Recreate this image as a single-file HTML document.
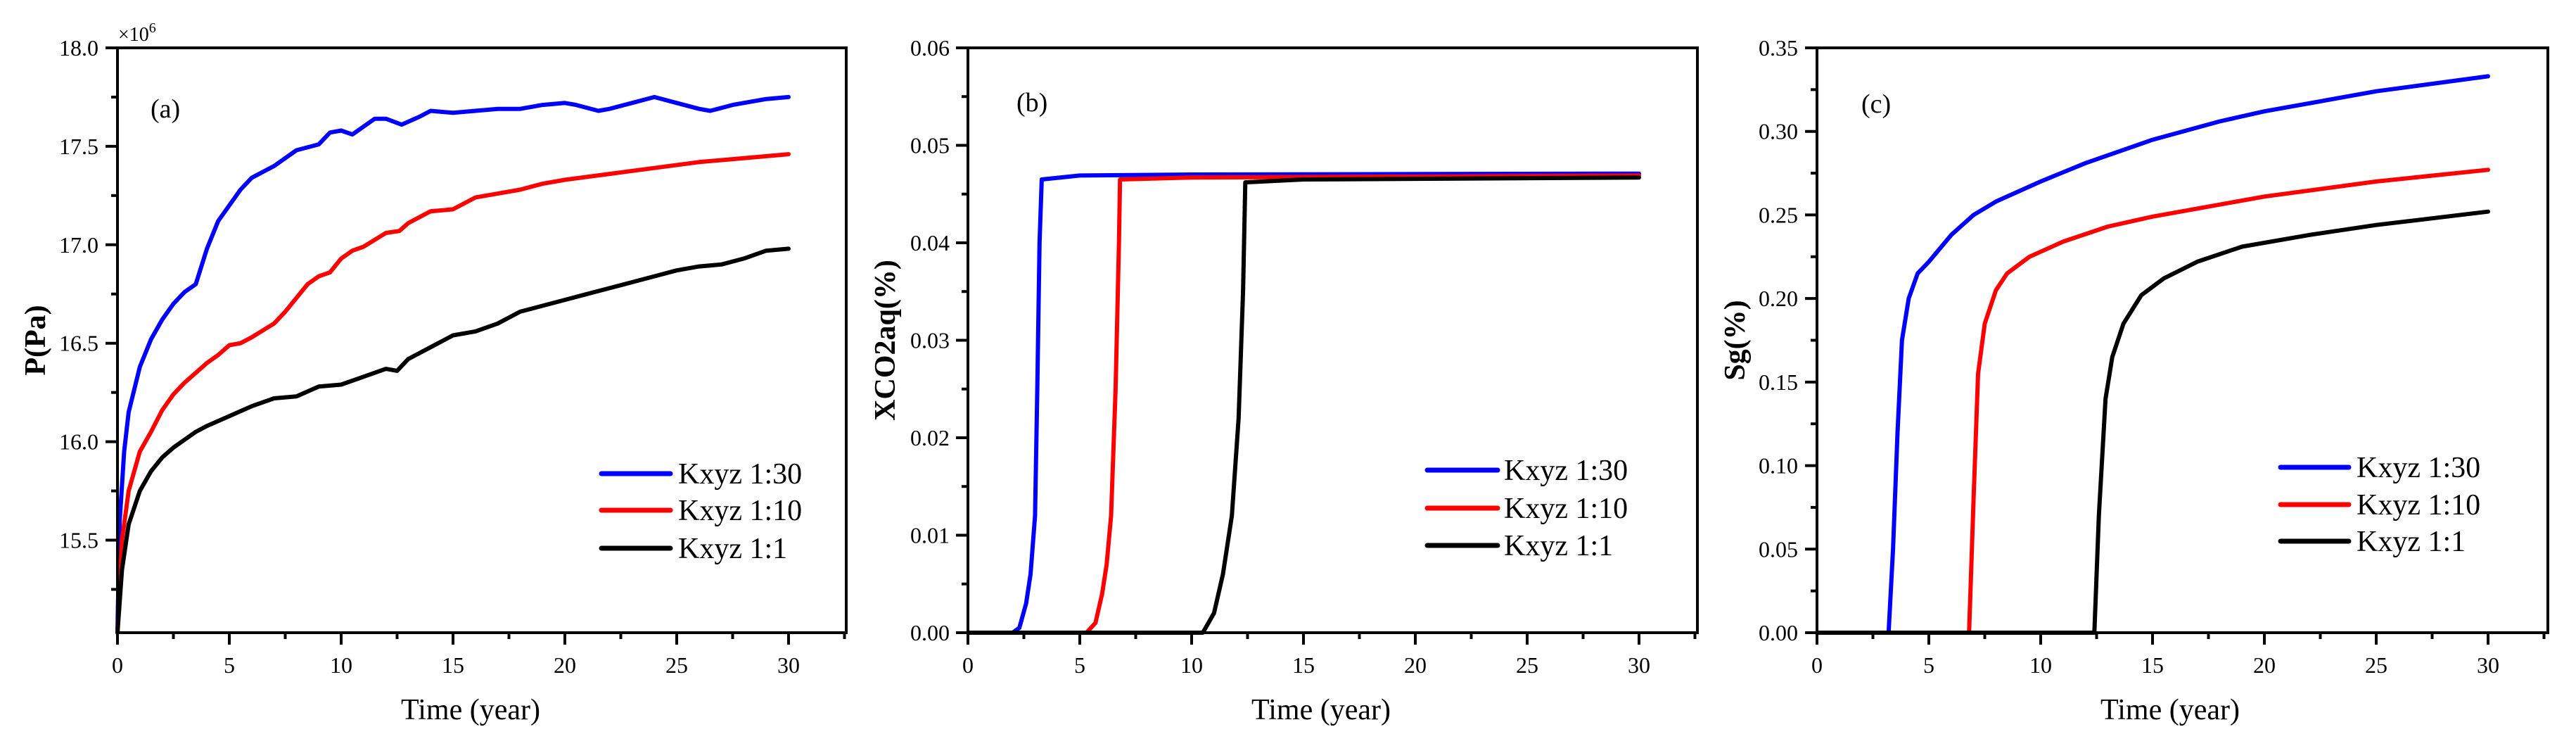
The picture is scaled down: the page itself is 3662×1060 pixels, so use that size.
<!DOCTYPE html>
<html><head><meta charset="utf-8">
<style>
html,body{margin:0;padding:0;background:#fff;}
svg{display:block;}
svg text{font-family:"Liberation Serif","Times New Roman",serif;}
</style></head>
<body>
<svg id="fig" width="3662" height="1060" viewBox="0 0 3662 1060" xmlns="http://www.w3.org/2000/svg" font-family="Liberation Serif, serif"></svg>
<script>
// ---- data ----
const aBlue=[[0,15.05],[0.1,15.6],[0.3,15.95],[0.5,16.15],[1,16.38],[1.5,16.52],[2,16.62],[2.5,16.7],[3,16.76],[3.5,16.8],[4,16.98],[4.5,17.12],[5,17.2],[5.5,17.28],[6,17.34],[7,17.4],[8,17.48],[9,17.51],[9.5,17.57],[10,17.58],[10.5,17.56],[11,17.6],[11.5,17.64],[12,17.64],[12.7,17.61],[13.5,17.65],[14,17.68],[15,17.67],[16,17.68],[17,17.69],[18,17.69],[19,17.71],[20,17.72],[20.5,17.71],[21.5,17.68],[22,17.69],[23,17.72],[24,17.75],[25,17.72],[26,17.69],[26.5,17.68],[27.5,17.71],[29,17.74],[30,17.75]];
const aRed=[[0,15.03],[0.2,15.5],[0.5,15.75],[1,15.95],[1.5,16.05],[2,16.16],[2.5,16.24],[3,16.3],[3.5,16.35],[4,16.4],[4.5,16.44],[5,16.49],[5.5,16.5],[6,16.53],[7,16.6],[7.5,16.66],[8,16.73],[8.5,16.8],[9,16.84],[9.5,16.86],[10,16.93],[10.5,16.97],[11,16.99],[12,17.06],[12.6,17.07],[13,17.11],[14,17.17],[15,17.18],[16,17.24],[17,17.26],[18,17.28],[19,17.31],[20,17.33],[22,17.36],[24,17.39],[26,17.42],[28,17.44],[30,17.46]];
const aBlack=[[0,15.03],[0.2,15.35],[0.5,15.58],[1,15.75],[1.5,15.85],[2,15.92],[2.5,15.97],[3,16.01],[3.5,16.05],[4,16.08],[5,16.13],[6,16.18],[7,16.22],[8,16.23],[9,16.28],[10,16.29],[11,16.33],[12,16.37],[12.5,16.36],[13,16.42],[14,16.48],[15,16.54],[16,16.56],[17,16.6],[18,16.66],[19,16.69],[20,16.72],[21,16.75],[22,16.78],[23,16.81],[24,16.84],[25,16.87],[26,16.89],[27,16.9],[28,16.93],[29,16.97],[30,16.98]];
const bBlue=[[0,0],[2,0],[2.3,0.0005],[2.6,0.003],[2.8,0.006],[3.0,0.012],[3.1,0.025],[3.2,0.04],[3.3,0.0465],[5,0.0469],[10,0.047],[30,0.0471]];
const bRed=[[0,0],[5.3,0],[5.7,0.001],[6.0,0.004],[6.2,0.007],[6.4,0.012],[6.6,0.025],[6.75,0.04],[6.8,0.0465],[10,0.0467],[30,0.0469]];
const bBlack=[[0,0],[10.5,0],[11,0.002],[11.4,0.006],[11.8,0.012],[12.1,0.022],[12.3,0.035],[12.4,0.0462],[15,0.0465],[30,0.0467]];
const cBlue=[[0,0],[3.2,0],[3.4,0.05],[3.6,0.12],[3.8,0.175],[4.1,0.2],[4.5,0.215],[5,0.222],[5.5,0.23],[6,0.238],[7,0.25],[8,0.258],[10,0.27],[12,0.281],[15,0.295],[18,0.306],[20,0.312],[25,0.324],[30,0.333]];
const cRed=[[0,0],[6.8,0],[7.0,0.08],[7.2,0.155],[7.5,0.185],[8,0.205],[8.5,0.215],[9.5,0.225],[11,0.234],[13,0.243],[15,0.249],[20,0.261],[25,0.27],[30,0.277]];
const cBlack=[[0,0],[12.4,0],[12.6,0.07],[12.9,0.14],[13.2,0.165],[13.7,0.185],[14.5,0.202],[15.5,0.212],[17,0.222],[19,0.231],[22,0.238],[25,0.244],[30,0.252]];
const xTicks=[0,5,10,15,20,25,30];
const aYTicks=["15.5","16.0","16.5","17.0","17.5","18.0"];
const bYTicks=["0.00","0.01","0.02","0.03","0.04","0.05","0.06"];
const cYTicks=["0.00","0.05","0.10","0.15","0.20","0.25","0.30","0.35"];
const legendLabels=["Kxyz 1:30","Kxyz 1:10","Kxyz 1:1"];

const NS="http://www.w3.org/2000/svg";
const FF='"Liberation Serif", "Times New Roman", serif';
const svg=document.getElementById('fig');
function mk(tag,attrs,parent,text){const e=document.createElementNS(NS,tag);for(const k in attrs)e.setAttribute(k,attrs[k]);if(tag==='text')e.setAttribute('font-family',FF);if(text!==undefined)e.textContent=text;(parent||svg).appendChild(e);return e;}

const panels=[
 {id:'a',L:167,R:1203,ymin:15.03,ymax:18.0,ymaj:0.5,yminor:0.25,yt:aYTicks,series:[aBlue,aRed,aBlack],title:'P(Pa)',titleX:50,lblEnd:140,tag:'(a)',tagX:214,tagY:167,leg:{x1:855,x2:953,tx:964,ys:[673,725,779]}},
 {id:'b',L:1376,R:2413,ymin:0,ymax:0.06,ymaj:0.01,yminor:0.005,yt:bYTicks,series:[bBlue,bRed,bBlack],title:'XCO2aq(%)',titleX:1258,lblEnd:1350,tag:'(b)',tagX:1445,tagY:158,leg:{x1:2029,x2:2129,tx:2138,ys:[668,722,775]}},
 {id:'c',L:2583,R:3622,ymin:0,ymax:0.35,ymaj:0.05,yminor:0.025,yt:cYTicks,series:[cBlue,cRed,cBlack],title:'Sg(%)',titleX:2466,lblEnd:2556,tag:'(c)',tagX:2646,tagY:160,leg:{x1:3242,x2:3339,tx:3350,ys:[664,717,769]}}
];
const T=68,B=899,XPX=31.8,colors=['#0000ff','#ff0000','#000000'];

panels.forEach(p=>{
 const g=mk('g',{});
 
 
 const sx=v=>p.L+v*XPX;
 const sy=v=>B-(v-p.ymin)/(p.ymax-p.ymin)*(B-T);
 p.series.forEach((s,i)=>{
  const d=s.map((pt,j)=>(j?'L':'M')+sx(pt[0]).toFixed(1)+','+sy(pt[1]).toFixed(1)).join(' ');
  const path=mk('path',{d:d,fill:'none',stroke:colors[i],'stroke-width':6,'stroke-linejoin':'round','stroke-linecap':'round'},g);
  
  
 });
 const fr=mk('rect',{x:p.L,y:T,width:p.R-p.L,height:B-T,fill:'none',stroke:'#000','stroke-width':4},g);
 
 
 for(let v=0;v<=32.5;v+=2.5){const major=(v%5===0);mk('line',{x1:sx(v),x2:sx(v),y1:B,y2:B+(major?17:9),stroke:'#000','stroke-width':4},g);}
 xTicks.forEach(v=>{const t=mk('text',{x:sx(v),y:B+57,'font-size':32,'text-anchor':'middle'},g,String(v));
  
  });
 const nMinor=Math.round((p.ymax-p.ymin)/p.yminor)+1;
 for(let k=0;k<=nMinor;k++){const v=Math.ceil(p.ymin/p.yminor-1e-6)*p.yminor+k*p.yminor; if(v>p.ymax+1e-9)break;
  const major=Math.abs(v/p.ymaj-Math.round(v/p.ymaj))<1e-6;
  mk('line',{x1:p.L-(major?17:9),x2:p.L,y1:sy(v),y2:sy(v),stroke:'#000','stroke-width':4},g);}
 p.yt.forEach(s=>{const t=mk('text',{x:p.lblEnd,y:sy(parseFloat(s))+11,'font-size':32,'text-anchor':'end'},g,s);
  
  });
 const xt=mk('text',{x:(p.L+sx(30))/2+25,y:1022,'font-size':42,'text-anchor':'middle'},g,'Time (year)');
 
 
 const yt=mk('text',{x:0,y:0,'font-size':42,'font-weight':'bold','text-anchor':'middle',transform:'translate('+(p.titleX+14)+','+((T+B)/2)+') rotate(-90)'},g,p.title);
 
 
 const tg=mk('text',{x:p.tagX,y:p.tagY,'font-size':38},g,p.tag);
 
 
 legendLabels.forEach((lab,i)=>{
  const lg=mk('g',{},g);
  
  
  mk('line',{x1:p.leg.x1,x2:p.leg.x2,y1:p.leg.ys[i],y2:p.leg.ys[i],stroke:colors[i],'stroke-width':7,'stroke-linecap':'round'},lg);
  mk('text',{x:p.leg.tx,y:p.leg.ys[i]+14,'font-size':42},lg,lab);
 });
});
const mult=mk('text',{x:168,y:58,'font-size':28},svg,'×10');


mk('tspan',{dy:-12,'font-size':20},mult,'6');
</script>
</body></html>
